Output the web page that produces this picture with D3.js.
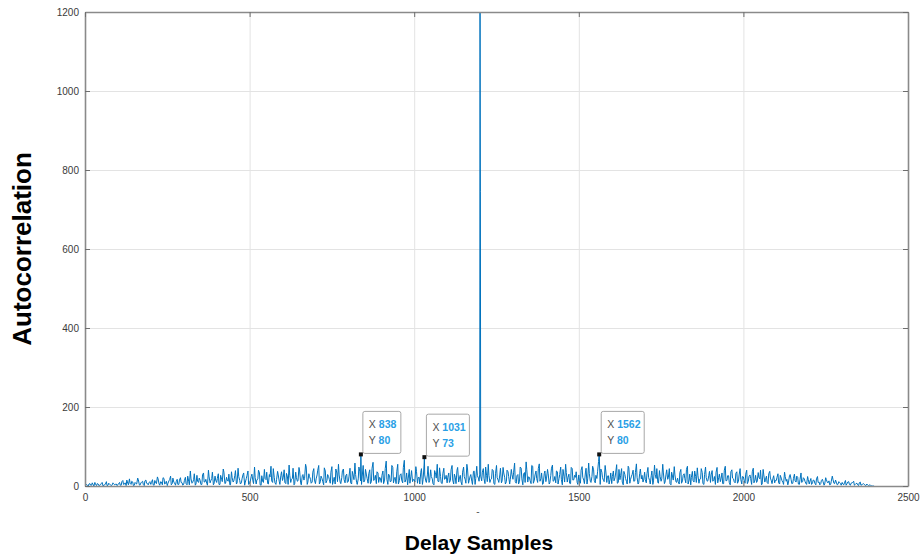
<!DOCTYPE html>
<html>
<head>
<meta charset="utf-8">
<script src="https://cdn.jsdelivr.net/npm/d3@7"></script>
<style>
  body { margin: 0; background: #fff; }
  svg { display: block; }
</style>
</head>
<body>
<svg id="chart" width="924" height="560"></svg>
<script>
// sampled autocorrelation side lobes: lags 0,5,10,... and 2,7,12,...
var lagStep = 5;
var acfNoise = [
  1,4,0,6,2,3,9,1,5,2,7,0,3,11,2,4,1,8,3,5,
  3,9,2,14,5,1,7,18,4,10,2,6,20,3,8,12,1,15,6,9,
  4,16,2,8,23,5,11,3,19,7,1,13,25,6,9,2,17,4,21,8,
  5,22,3,12,38,7,16,2,27,9,14,4,33,11,6,40,8,19,3,25,
  9,31,4,17,43,6,22,12,3,36,10,26,5,45,14,8,29,2,19,38,
  7,24,13,48,5,18,33,2,11,42,16,6,29,50,9,21,4,37,12,27,
  14,41,6,23,53,9,19,3,35,12,47,8,26,15,55,4,31,17,10,44,
  6,28,52,11,19,3,38,14,24,7,49,16,5,33,55,10,21,43,8,30,
  12,45,5,25,58,9,18,36,4,52,15,28,7,41,11,60,19,6,33,22,
  9,38,15,63,4,27,12,47,20,6,55,14,31,8,65,17,3,42,25,11,
  16,49,7,22,35,4,53,13,28,9,41,18,3,30,55,11,24,6,45,19,
  8,33,14,52,5,21,40,10,27,3,48,16,55,7,25,12,37,4,50,20,
  30,13,44,6,26,55,9,18,39,4,52,15,28,8,47,21,11,36,5,42,
  17,58,7,29,12,45,3,34,61,10,22,6,50,15,38,9,56,19,4,31,
  11,42,5,27,53,14,8,36,19,48,3,24,55,10,30,6,44,16,22,9,
  28,7,49,15,33,5,58,12,24,41,8,19,62,4,35,14,52,9,26,17,
  6,38,21,54,9,16,44,3,29,11,50,7,25,40,13,56,5,32,18,10,
  35,8,47,14,26,4,53,19,9,39,12,55,6,30,17,44,3,23,49,11,
  20,5,42,13,31,8,50,15,3,37,10,24,46,7,18,34,4,48,12,27,
  9,39,16,4,47,21,11,33,6,50,14,26,3,41,18,8,36,12,44,5,
  23,7,40,12,28,4,45,15,9,34,18,3,42,10,25,6,37,13,20,8,
  14,31,5,20,9,35,12,3,26,16,7,30,10,22,4,33,11,18,6,24,
  5,19,8,14,3,24,10,6,17,2,21,9,13,4,25,7,15,3,11,6,
  9,3,14,6,11,2,8,12,4,7,1,10,3,6,2,5,1,3,0,0
];
var lagOffsetB = 2;
var acfNoiseB = [
  3,1,5,2,8,0,4,6,1,3,9,2,5,1,7,3,2,6,4,1,
  6,2,11,4,8,15,3,7,12,1,9,5,16,2,10,4,13,7,3,11,
  9,3,14,6,18,2,10,21,5,12,7,16,3,20,8,11,4,15,9,2,
  14,6,25,3,18,9,31,5,12,20,4,28,10,17,2,23,13,35,6,15,
  19,4,27,11,35,7,15,30,3,21,13,39,8,24,5,18,33,10,26,4,
  12,30,6,21,15,40,3,26,9,19,35,5,23,13,44,8,17,28,4,36,
  21,9,32,4,27,17,45,6,22,13,38,3,29,19,48,10,24,7,35,15,
  18,40,5,25,12,46,8,29,17,35,4,22,43,11,28,6,39,16,26,9,
  25,8,37,16,29,4,48,13,23,10,42,19,31,6,45,14,27,36,9,20,
  27,6,44,17,30,11,52,8,22,36,5,28,15,47,10,33,20,7,39,16,
  10,37,21,5,44,16,28,9,50,14,24,6,39,20,12,46,8,31,17,27,
  22,9,41,15,30,6,47,18,11,35,24,7,43,14,29,4,38,19,26,12,
  8,35,19,48,11,27,16,42,6,31,21,9,45,13,33,5,40,24,17,29,
  35,11,26,5,48,18,30,9,41,23,14,52,7,28,19,44,12,33,6,38,
  20,31,8,45,12,24,38,5,29,17,42,10,34,21,7,47,15,27,36,4,
  13,40,22,6,45,18,31,9,50,14,27,36,7,43,21,11,38,25,5,33,
  24,13,33,7,42,26,10,37,19,5,46,16,29,12,34,22,8,43,27,15,
  16,31,22,5,38,13,29,44,7,24,18,33,10,41,21,6,35,15,28,9,
  11,34,7,27,19,42,5,30,22,14,38,9,26,17,44,6,29,21,13,37,
  28,12,24,35,8,30,18,6,40,13,26,9,36,20,11,32,7,28,17,24,
  15,30,6,24,19,36,8,27,12,22,40,5,28,16,9,31,20,6,26,14,
  22,8,27,14,4,24,17,10,29,6,19,13,25,5,17,9,21,12,4,16,
  12,4,15,7,18,9,3,14,11,5,16,8,3,12,17,6,10,4,9,2,
  5,8,2,10,4,7,9,2,6,3,8,2,5,4,1,3,2,1,0,0
];
// main lobe around zero delay
var peakLags = [1199, 1200, 1201, 1202];
var peakValues = [30, 1200, 745, 25];
// data tips
var tipLags = [838, 1031, 1562];
var tipValues = [80, 73, 80];

var xTicks = [0, 500, 1000, 1500, 2000, 2500];
var yTicks = [0, 200, 400, 600, 800, 1000, 1200];

var margin = {left: 85, right: 16, top: 12, bottom: 74};
var W = 924, H = 560;
var iw = W - margin.left - margin.right;
var ih = H - margin.top - margin.bottom;

var svg = d3.select("#chart");
var g = svg.append("g").attr("transform", "translate(" + margin.left + "," + margin.top + ")");

var x = d3.scaleLinear().domain([0, 2500]).range([0, iw]);
var y = d3.scaleLinear().domain([0, 1200]).range([ih, 0]);
var fmt = d3.format("d");

// build series
var pts = acfNoise.map(function(v, i) { return {lag: i * lagStep, val: v}; })
  .concat(acfNoiseB.map(function(v, i) { return {lag: lagOffsetB + i * lagStep, val: v}; }));
var extraLags = peakLags.concat(tipLags);
var extraVals = peakValues.concat(tipValues);
pts = pts.filter(function(p) { return extraLags.indexOf(p.lag) < 0; });
extraLags.forEach(function(l, i) { pts.push({lag: l, val: extraVals[i]}); });
pts.sort(function(a, b) { return a.lag - b.lag; });

// grid
g.append("g").attr("class", "grid")
  .attr("transform", "translate(0," + ih + ")")
  .call(d3.axisBottom(x).tickValues(xTicks).tickSize(-ih).tickFormat(""));
g.append("g").attr("class", "grid")
  .call(d3.axisLeft(y).tickValues(yTicks).tickSize(-iw).tickFormat(""));
g.selectAll(".grid line").attr("stroke", "#e3e3e3").attr("stroke-width", 1);
g.selectAll(".grid .domain").remove();

// series
g.append("clipPath").attr("id", "clip")
  .append("rect").attr("width", iw).attr("height", ih + 1);
g.append("path")
  .datum(pts)
  .attr("clip-path", "url(#clip)")
  .attr("fill", "none")
  .attr("stroke", "#0072BD")
  .attr("stroke-width", 1)
  .attr("d", d3.line().x(function(d) { return x(d.lag); }).y(function(d) { return y(d.val); }));

// axes (ticks inward, box on)
var axB = g.append("g").attr("transform", "translate(0," + ih + ")")
  .call(d3.axisBottom(x).tickValues(xTicks).tickFormat(fmt).tickSizeInner(-5).tickSizeOuter(0).tickPadding(8));
var axL = g.append("g")
  .call(d3.axisLeft(y).tickValues(yTicks).tickFormat(fmt).tickSizeInner(-5).tickSizeOuter(0).tickPadding(6));
var axT = g.append("g")
  .call(d3.axisTop(x).tickValues(xTicks).tickSizeInner(-5).tickSizeOuter(0).tickFormat(""));
var axR = g.append("g").attr("transform", "translate(" + iw + ",0)")
  .call(d3.axisRight(y).tickValues(yTicks).tickSizeInner(-5).tickSizeOuter(0).tickFormat(""));
[axB, axL, axT, axR].forEach(function(a) {
  a.select(".domain").attr("stroke", "#8a8a8a").attr("stroke-width", 1.6);
  a.selectAll(".tick line").attr("stroke", "#6e6e6e");
  a.selectAll("text").attr("fill", "#3a3a3a")
    .style("font-family", "Liberation Sans, Arial, sans-serif").style("font-size", "10px");
});

// data tips
tipLags.forEach(function(l, i) {
  var px = x(l), py = y(tipValues[i]);
  var bw = String(l).length > 3 ? 43 : 38;
  var tip = g.append("g").attr("transform", "translate(" + (px + 2) + "," + (py - 43) + ")");
  tip.append("rect").attr("width", bw).attr("height", 42).attr("rx", 2)
    .attr("fill", "#fff").attr("stroke", "#a8a8a8").attr("stroke-width", 1);
  var lines = [["X", l], ["Y", tipValues[i]]];
  lines.forEach(function(r, k) {
    var t = tip.append("text").attr("x", 6).attr("y", 17 + k * 16)
      .style("font-family", "Liberation Sans, Arial, sans-serif").style("font-size", "10.5px");
    t.append("tspan").attr("fill", "#505050").text(r[0] + " ");
    t.append("tspan").attr("fill", "#2a9fe6").attr("font-weight", "bold").text(r[1]);
  });
  g.append("rect").attr("x", px - 2).attr("y", py - 2).attr("width", 4).attr("height", 4).attr("fill", "#111");
});

// labels
svg.append("text")
  .attr("transform", "translate(31,249) rotate(-90)")
  .attr("text-anchor", "middle")
  .style("font-family", "Liberation Sans, Arial, sans-serif")
  .style("font-size", "26px").style("font-weight", "bold").attr("fill", "#000")
  .text("Autocorrelation");
svg.append("text")
  .attr("x", 479).attr("y", 550)
  .attr("text-anchor", "middle")
  .style("font-family", "Liberation Sans, Arial, sans-serif")
  .style("font-size", "21px").style("font-weight", "bold").attr("fill", "#000")
  .text("Delay Samples");
svg.append("text")
  .attr("x", 478).attr("y", 515).attr("text-anchor", "middle")
  .style("font-family", "Liberation Sans, Arial, sans-serif").style("font-size", "10px").attr("fill", "#555")
  .text("-");
</script>
</body>
</html>
